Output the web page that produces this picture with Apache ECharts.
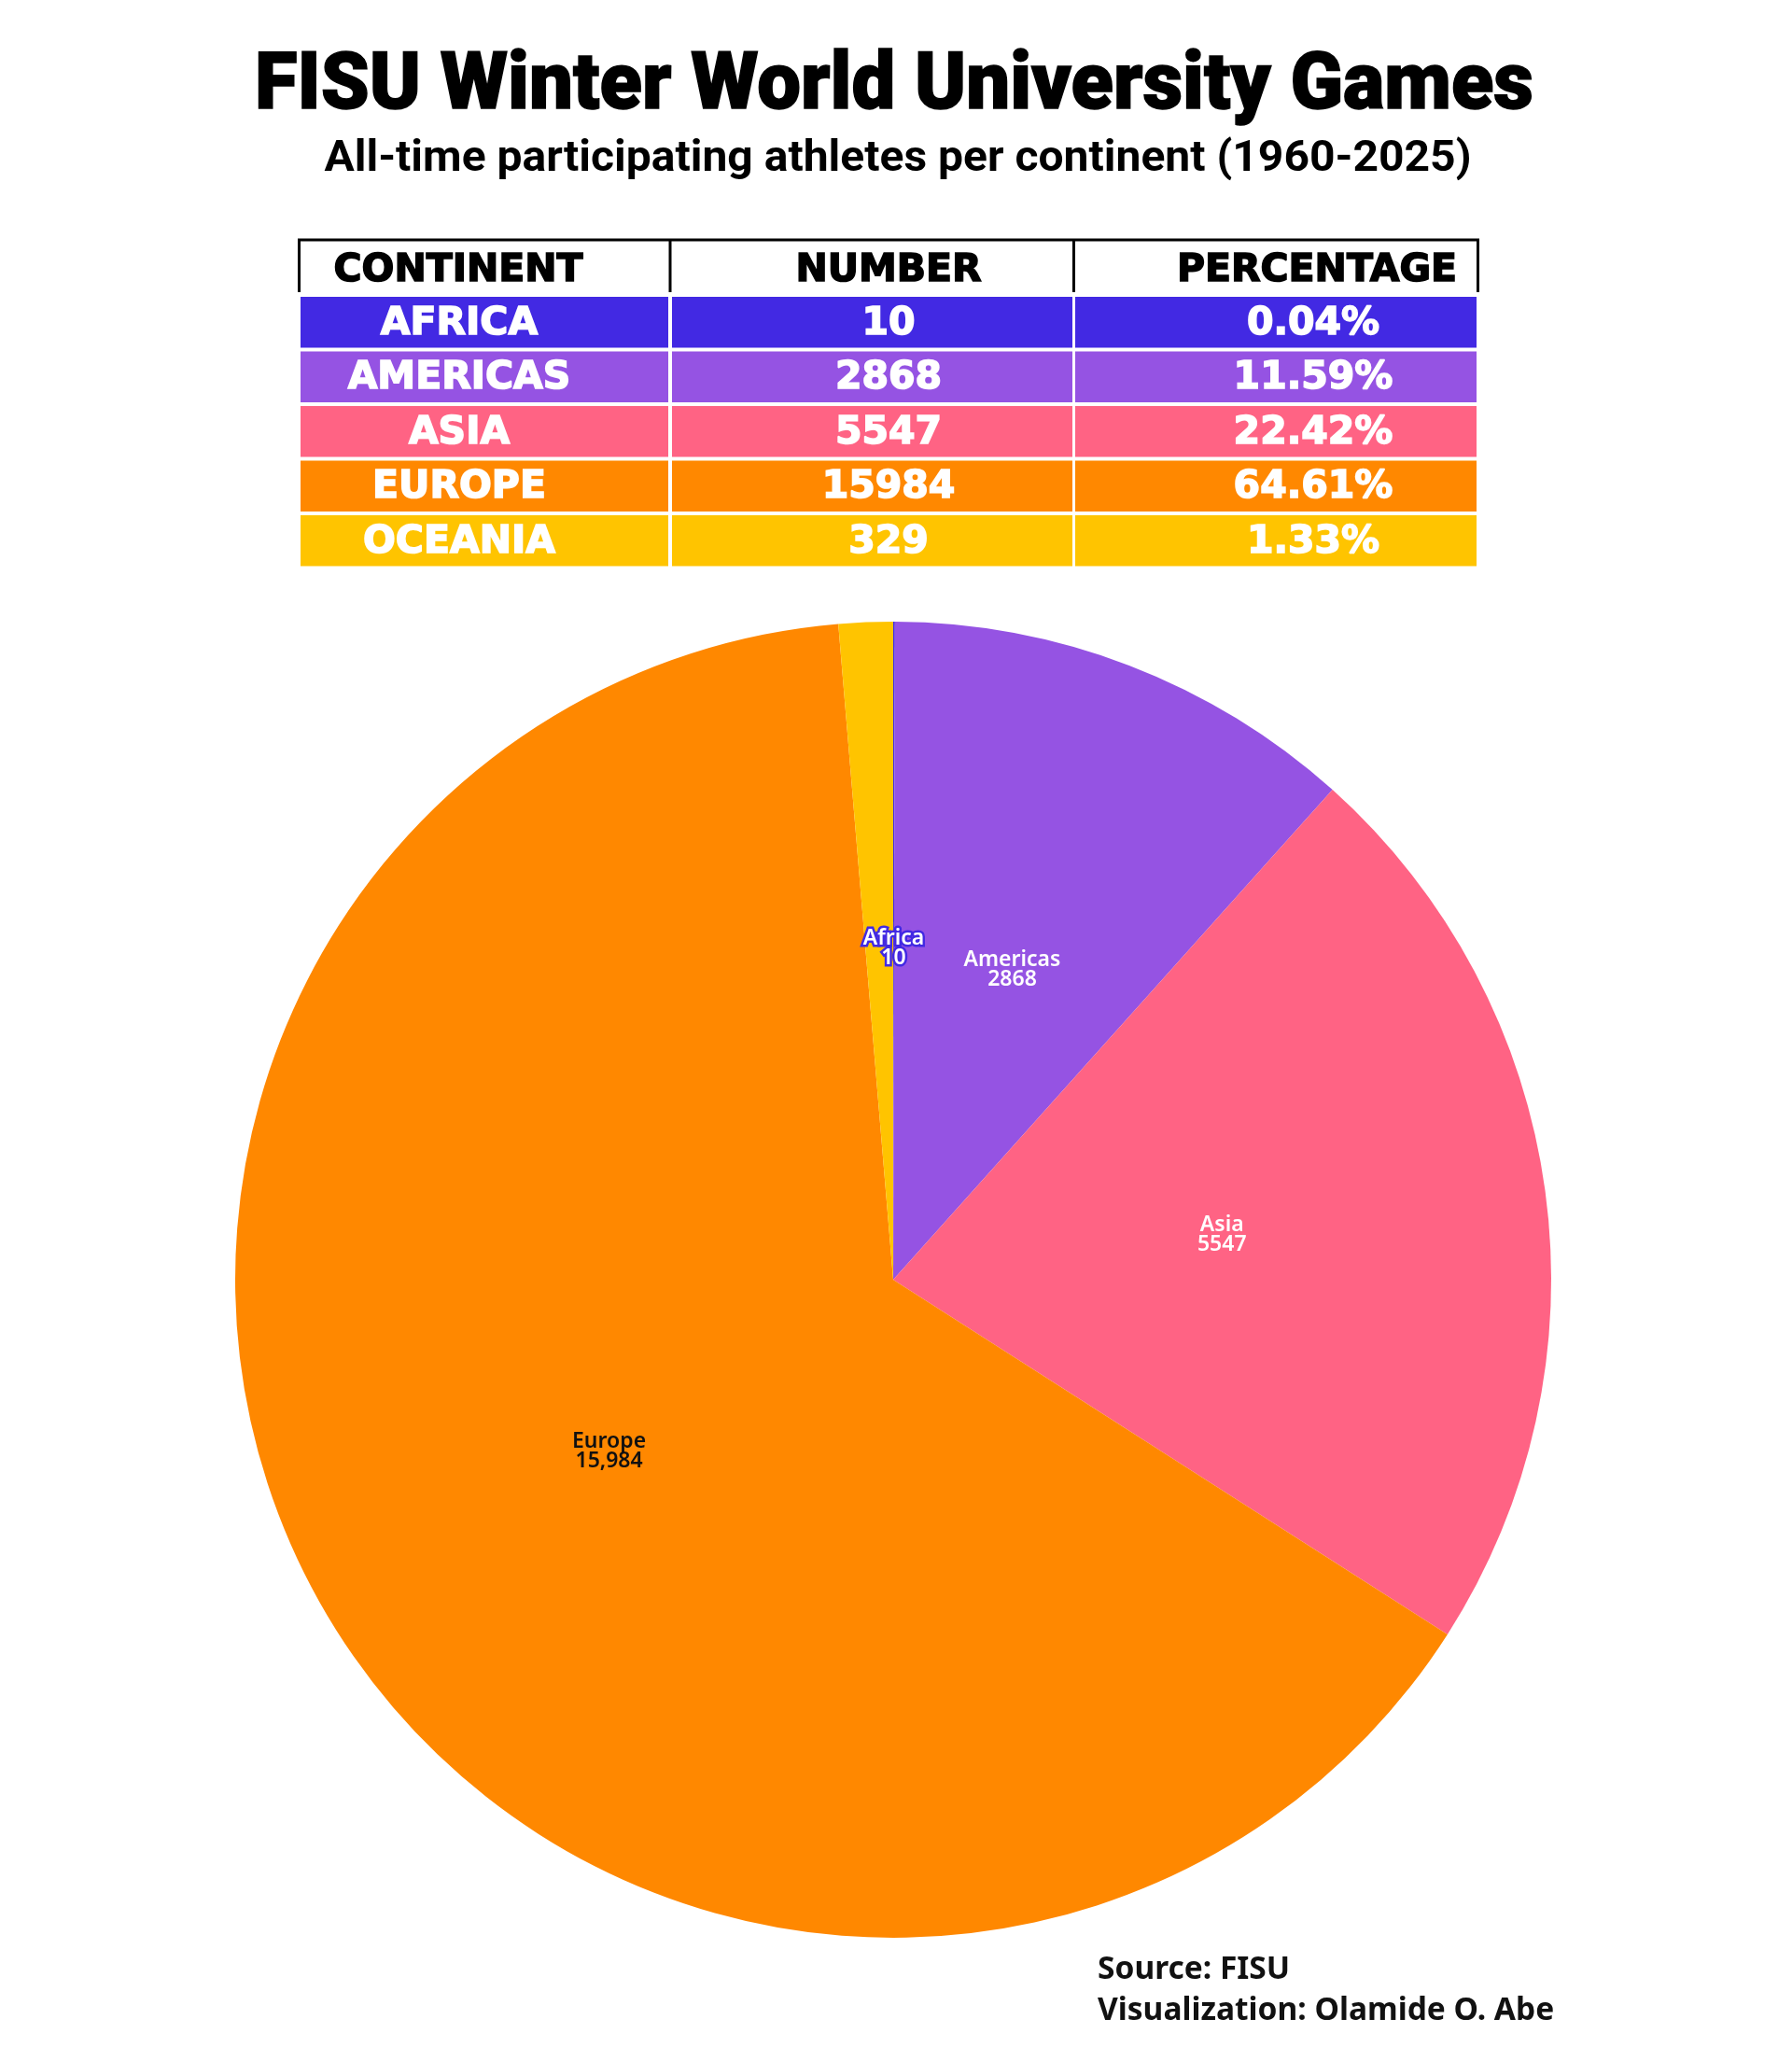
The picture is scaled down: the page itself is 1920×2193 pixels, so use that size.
<!DOCTYPE html>
<html>
<head>
<meta charset="utf-8">
<script src="https://cdn.jsdelivr.net/npm/echarts@6/dist/echarts.min.js"></script>
<style>
html,body{margin:0;padding:0;background:#fff;}
#chart{width:1920px;height:2193px;}
</style>
</head>
<body>
<div id="chart"></div>
<script>
// ---- data ----
const continents = ['Africa', 'Americas', 'Asia', 'Europe', 'Oceania'];
const athletes = [10, 2868, 5547, 15984, 329];
const percentLabels = ['0.04%', '11.59%', '22.42%', '64.61%', '1.33%'];
const tableHeaders = ['CONTINENT', 'NUMBER', 'PERCENTAGE'];
const colors = ['#4229e3', '#9553e3', '#ff6384', '#ff8800', '#ffc400'];

const titleText = 'FISU Winter World University Games';
const subtitleText = 'All-time participating athletes per continent (1960-2025)';
const footerLines = ['Source: FISU', 'Visualization: Olamide O. Abe'];

// ---- helpers ----
const mctx = document.createElement('canvas').getContext('2d');
function fitScale(text, font, target) {
  mctx.font = font;
  const w = mctx.measureText(text).width;
  return w > 0 ? target / w : 1;
}

const chart = echarts.init(document.getElementById('chart'), null, {renderer: 'canvas'});

const graphics = [];

// Title / subtitle
const titleFont = '900 86px Roboto';
graphics.push({
  type: 'text', x: 958, y: 94,
  scaleX: fitScale(titleText, titleFont, 1370),
  style: {text: titleText, fontFamily: 'Roboto', fontWeight: 900, fontSize: 86,
          fill: '#000', stroke: '#000', lineWidth: 1.5, align: 'center', verticalAlign: 'middle'}
});
const subFont = '700 46px Roboto';
graphics.push({
  type: 'text', x: 962, y: 171,
  scaleX: fitScale(subtitleText, subFont, 1229),
  style: {text: subtitleText, fontFamily: 'Roboto', fontWeight: 700, fontSize: 46,
          fill: '#000', align: 'center', verticalAlign: 'middle'}
});

// Table
const colX0 = [322, 720, 1152];
const colX1 = [716, 1149, 1582];
const textCX = [492, 952, 1407];
const headerTop = 257, headerBottom = 313;
const rowTop0 = 318, rowPitch = 58.5, rowH = 54.5;
const tableFont = 'DejaVu Sans';
const tFontSize = 41;

// header lines
const lw = 3;
graphics.push({type: 'line', shape: {x1: 319, y1: headerTop, x2: 1585, y2: headerTop}, style: {stroke: '#000', lineWidth: lw}});
[320.5, 718, 1150.5, 1583.5].forEach(x => {
  graphics.push({type: 'line', shape: {x1: x, y1: headerTop, x2: x, y2: headerBottom}, style: {stroke: '#000', lineWidth: lw}});
});
tableHeaders.forEach((h, i) => {
  graphics.push({type: 'text', x: [491, 952, 1411][i], y: 290,
    style: {text: h, fontFamily: tableFont, fontWeight: 'bold', fontSize: tFontSize, fill: '#000',
            stroke: '#000', lineWidth: 1.6, align: 'center', verticalAlign: 'middle'}});
});
continents.forEach((c, r) => {
  const y0 = rowTop0 + r * rowPitch;
  const cells = [c.toUpperCase(), String(athletes[r]), percentLabels[r]];
  for (let k = 0; k < 3; k++) {
    graphics.push({type: 'rect', shape: {x: colX0[k], y: y0, width: colX1[k] - colX0[k], height: rowH},
      style: {fill: colors[r]}});
    graphics.push({type: 'text', x: textCX[k], y: y0 + rowH / 2 + 2,
      style: {text: cells[k], fontFamily: tableFont, fontWeight: 'bold', fontSize: tFontSize, fill: '#fff',
              stroke: '#fff', lineWidth: 1.6, align: 'center', verticalAlign: 'middle'}});
  }
});

// Footer
footerLines.forEach((t, i) => {
  graphics.push({type: 'text', x: 1176, y: [2110, 2154][i],
    style: {text: t, fontFamily: 'Noto Sans', fontWeight: 'bold', fontSize: 33.5, fill: '#111',
            align: 'left', verticalAlign: 'middle'}});
});

// Pie data
const labelStyles = [
  {color: '#fff', textBorderColor: '#4229e3', textBorderWidth: 5},
  {color: '#fff'},
  {color: '#fff'},
  {color: '#111'},
  {show: false}
];
const pieData = continents.map((c, i) => ({
  name: c, value: athletes[i],
  itemStyle: {color: colors[i]},
  label: labelStyles[i]
}));

const option = {
  backgroundColor: '#fff',
  animation: false,
  series: [{
    type: 'pie',
    center: [957, 1371],
    radius: 705,
    startAngle: 90,
    clockwise: true,
    avoidLabelOverlap: false,
    data: pieData,
    itemStyle: {borderWidth: 0},
    label: {
      show: true,
      position: 'inside',
      fontFamily: 'Noto Sans',
      fontWeight: 600,
      fontSize: 23,
      lineHeight: 21,
      color: '#fff',
      formatter: p => p.name + '\n' + (p.value >= 10000 ? p.value.toLocaleString('en-US') : String(p.value))
    },
    labelLine: {show: false},
    emphasis: {disabled: true}
  }],
  graphic: graphics
};
chart.setOption(option);
</script>
</body>
</html>
